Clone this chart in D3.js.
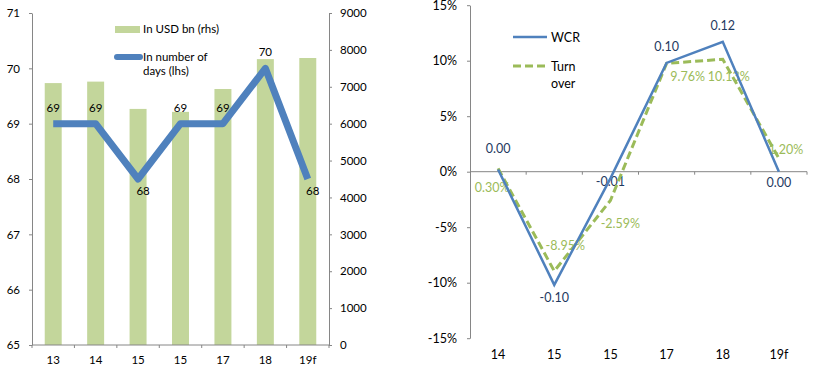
<!DOCTYPE html>
<html><head><meta charset="utf-8">
<script src="https://cdn.jsdelivr.net/npm/d3@7"></script>
<style>
html,body{margin:0;padding:0;background:#fff;}
svg text{font-family:Lato,"Open Sans",sans-serif;}
</style></head>
<body>
<svg id="c" width="816" height="368"></svg>
<script>
// ---------- Data ----------
const leftCategories = ["13","14","15","15","17","18","19f"];
const usdBn = [7100, 7140, 6400, 6320, 6940, 7750, 7780];
const days = [69, 69, 68, 69, 69, 70, 68];
const leftTicks = [65,66,67,68,69,70,71];
const rightTicks = [0,1000,2000,3000,4000,5000,6000,7000,8000,9000];
const leftLegend = ["In USD bn (rhs)", "In number of", "days (lhs)"];

const rightCategories = ["14","15","15","17","18","19f"];
const wcr = [0.2, -10.2, -0.6, 9.8, 11.7, 0.0];
const turnover = [0.30, -8.95, -2.59, 9.76, 10.13, 1.20];
const pctTicks = [-15,-10,-5,0,5,10,15];
const rightLegend = ["WCR", "Turn", "over"];

// ---------- Styles ----------
const axisCol = "#868686", barCol = "#c3d69b", lineCol = "#4f81bd", greenCol = "#9bbb59", navy = "#1f3a5f";
const svg = d3.select("#c");
const fmt = d3.formatLocale({decimal:".",thousands:",",grouping:[3],currency:["",""],minus:"-"});

// ================= LEFT CHART =================
const L = {x0:32, x1:329, y0:13, y1:345};
const xL = d3.scaleBand().domain(d3.range(leftCategories.length)).range([L.x0, L.x1]).paddingInner(0.6).paddingOuter(0.3);
const yL = d3.scaleLinear().domain([65,71]).range([L.y1, L.y0]);
const yR = d3.scaleLinear().domain([0,9000]).range([L.y1, L.y0]);
const gL = svg.append("g");

// bars
gL.selectAll("rect.bar").data(usdBn).enter().append("rect")
  .attr("x",(d,i)=>xL(i)).attr("width",xL.bandwidth())
  .attr("y",d=>yR(d)).attr("height",d=>yR(0)-yR(d)).attr("fill",barCol);

// axes
function styleAxis(g, fs){
  g.select(".domain").attr("stroke",axisCol);
  g.selectAll(".tick line").attr("stroke",axisCol);
  g.selectAll(".tick text").attr("fill","#000").style("font-size",fs+"px").style("font-family","Lato");
}
gL.append("g").attr("transform",`translate(${L.x0},0)`)
  .call(d3.axisLeft(yL).tickValues(leftTicks).tickFormat(fmt.format("d")).tickSize(3).tickPadding(9).tickSizeOuter(0))
  .call(g=>styleAxis(g,11.5));
gL.append("g").attr("transform",`translate(${L.x1},0)`)
  .call(d3.axisRight(yR).tickValues(rightTicks).tickFormat(fmt.format("d")).tickSize(3).tickPadding(8).tickSizeOuter(0))
  .call(g=>styleAxis(g,11.5));
// x axis
gL.append("line").attr("x1",L.x0).attr("x2",L.x1).attr("y1",L.y1).attr("y2",L.y1).attr("stroke",axisCol);
const stepL = xL.step();
gL.selectAll("line.xt").data(d3.range(leftCategories.length+1)).enter().append("line")
  .attr("x1",i=>L.x0+i*stepL).attr("x2",i=>L.x0+i*stepL).attr("y1",L.y1).attr("y2",L.y1+3).attr("stroke",axisCol);
gL.selectAll("text.xl").data(leftCategories).enter().append("text")
  .attr("x",(d,i)=>xL(i)+xL.bandwidth()/2).attr("y",364).attr("text-anchor","middle")
  .style("font-size","11.5px").attr("fill","#000").text(d=>d);

// line
const lineL = d3.line().x((d,i)=>xL(i)+xL.bandwidth()/2).y(d=>yL(d));
gL.append("path").datum(days).attr("d",lineL).attr("fill","none").attr("stroke",lineCol)
  .attr("stroke-width",7).attr("stroke-linejoin","round").attr("stroke-linecap","butt");

// labels
gL.selectAll("text.dl").data(days).enter().append("text")
  .attr("x",(d,i)=>xL(i)+xL.bandwidth()/2 + ((i===2||i===6)?5:0))
  .attr("y",(d,i)=>yL(d) + ((i===2||i===6)?16:-12))
  .attr("text-anchor","middle").style("font-size","11.5px").attr("fill","#000").text(d=>d);

// legend
gL.append("rect").attr("x",115).attr("y",26).attr("width",25).attr("height",7).attr("fill",barCol);
gL.append("text").attr("x",143).attr("y",33).style("font-size","11.5px").attr("fill","#000").text(leftLegend[0]);
gL.append("line").attr("x1",117).attr("x2",140).attr("y1",57).attr("y2",57).attr("stroke",lineCol).attr("stroke-width",6).attr("stroke-linecap","round");
gL.append("text").attr("x",143).attr("y",61).style("font-size","11.5px").attr("fill","#000").text(leftLegend[1]);
gL.append("text").attr("x",143).attr("y",75).style("font-size","11.5px").attr("fill","#000").text(leftLegend[2]);

// ================= RIGHT CHART =================
const R = {x0:470, x1:807, y0:5.2, y1:338.2};
const xR = d3.scaleBand().domain(d3.range(rightCategories.length)).range([R.x0, R.x1]);
const yP = d3.scaleLinear().domain([-15,15]).range([R.y1, R.y0]);
const gR = svg.append("g");
const cx = i => xR(i)+xR.bandwidth()/2;

gR.append("g").attr("transform",`translate(${R.x0},0)`)
  .call(d3.axisLeft(yP).tickValues(pctTicks).tickSize(3).tickPadding(10).tickSizeOuter(0).tickFormat(d=>fmt.format("d")(d)+"%"))
  .call(g=>styleAxis(g,12.5));
gR.append("line").attr("x1",R.x0).attr("x2",R.x1).attr("y1",yP(0)).attr("y2",yP(0)).attr("stroke",axisCol);
gR.selectAll("line.xt").data(d3.range(1,rightCategories.length+1)).enter().append("line")
  .attr("x1",i=>R.x0+i*xR.step()).attr("x2",i=>R.x0+i*xR.step()).attr("y1",yP(0)).attr("y2",yP(0)+3).attr("stroke",axisCol);
gR.selectAll("text.xl").data(rightCategories).enter().append("text")
  .attr("x",(d,i)=>cx(i)).attr("y",359).attr("text-anchor","middle")
  .style("font-size","12.5px").attr("fill","#000").text(d=>d);

// labels (under lines)
const wcrDy = [-16, 17, 8, -12, -12, 15];
gR.selectAll("text.wl").data(wcr).enter().append("text")
  .attr("x",(d,i)=>cx(i)).attr("y",(d,i)=>yP(d)+wcrDy[i])
  .attr("text-anchor","middle").style("font-size","12.5px").attr("fill",navy)
  .text(d=>fmt.format(".2f")(d/100));
const tDx = [-6, 11, 10, 21, 6, 7];
const tDy = [24, -21, 28, 18, 22, -4];
gR.selectAll("text.tl").data(turnover).enter().append("text")
  .attr("x",(d,i)=>cx(i)+tDx[i]).attr("y",(d,i)=>yP(d)+tDy[i])
  .attr("text-anchor","middle").style("font-size","12.5px").attr("fill",greenCol)
  .text(d=>fmt.format(".2f")(d)+"%");

// lines
const lineR = d3.line().x((d,i)=>cx(i)).y(d=>yP(d));
gR.append("path").datum(turnover).attr("d",lineR).attr("fill","none").attr("stroke",greenCol)
  .attr("stroke-width",3).attr("stroke-dasharray","8,4");
gR.append("path").datum(wcr).attr("d",lineR).attr("fill","none").attr("stroke",lineCol)
  .attr("stroke-width",2.5).attr("stroke-linejoin","miter");

// legend
gR.append("line").attr("x1",513).attr("x2",547).attr("y1",37).attr("y2",37).attr("stroke",lineCol).attr("stroke-width",2.5);
gR.append("text").attr("x",551).attr("y",41.5).style("font-size","12.5px").attr("fill","#000").text(rightLegend[0]);
gR.append("line").attr("x1",513).attr("x2",547).attr("y1",66).attr("y2",66).attr("stroke",greenCol).attr("stroke-width",3).attr("stroke-dasharray","8,4");
gR.append("text").attr("x",551).attr("y",70.5).style("font-size","12.5px").attr("fill","#000").text(rightLegend[1]);
gR.append("text").attr("x",551).attr("y",87.5).style("font-size","12.5px").attr("fill","#000").text(rightLegend[2]);
</script>
</body></html>
